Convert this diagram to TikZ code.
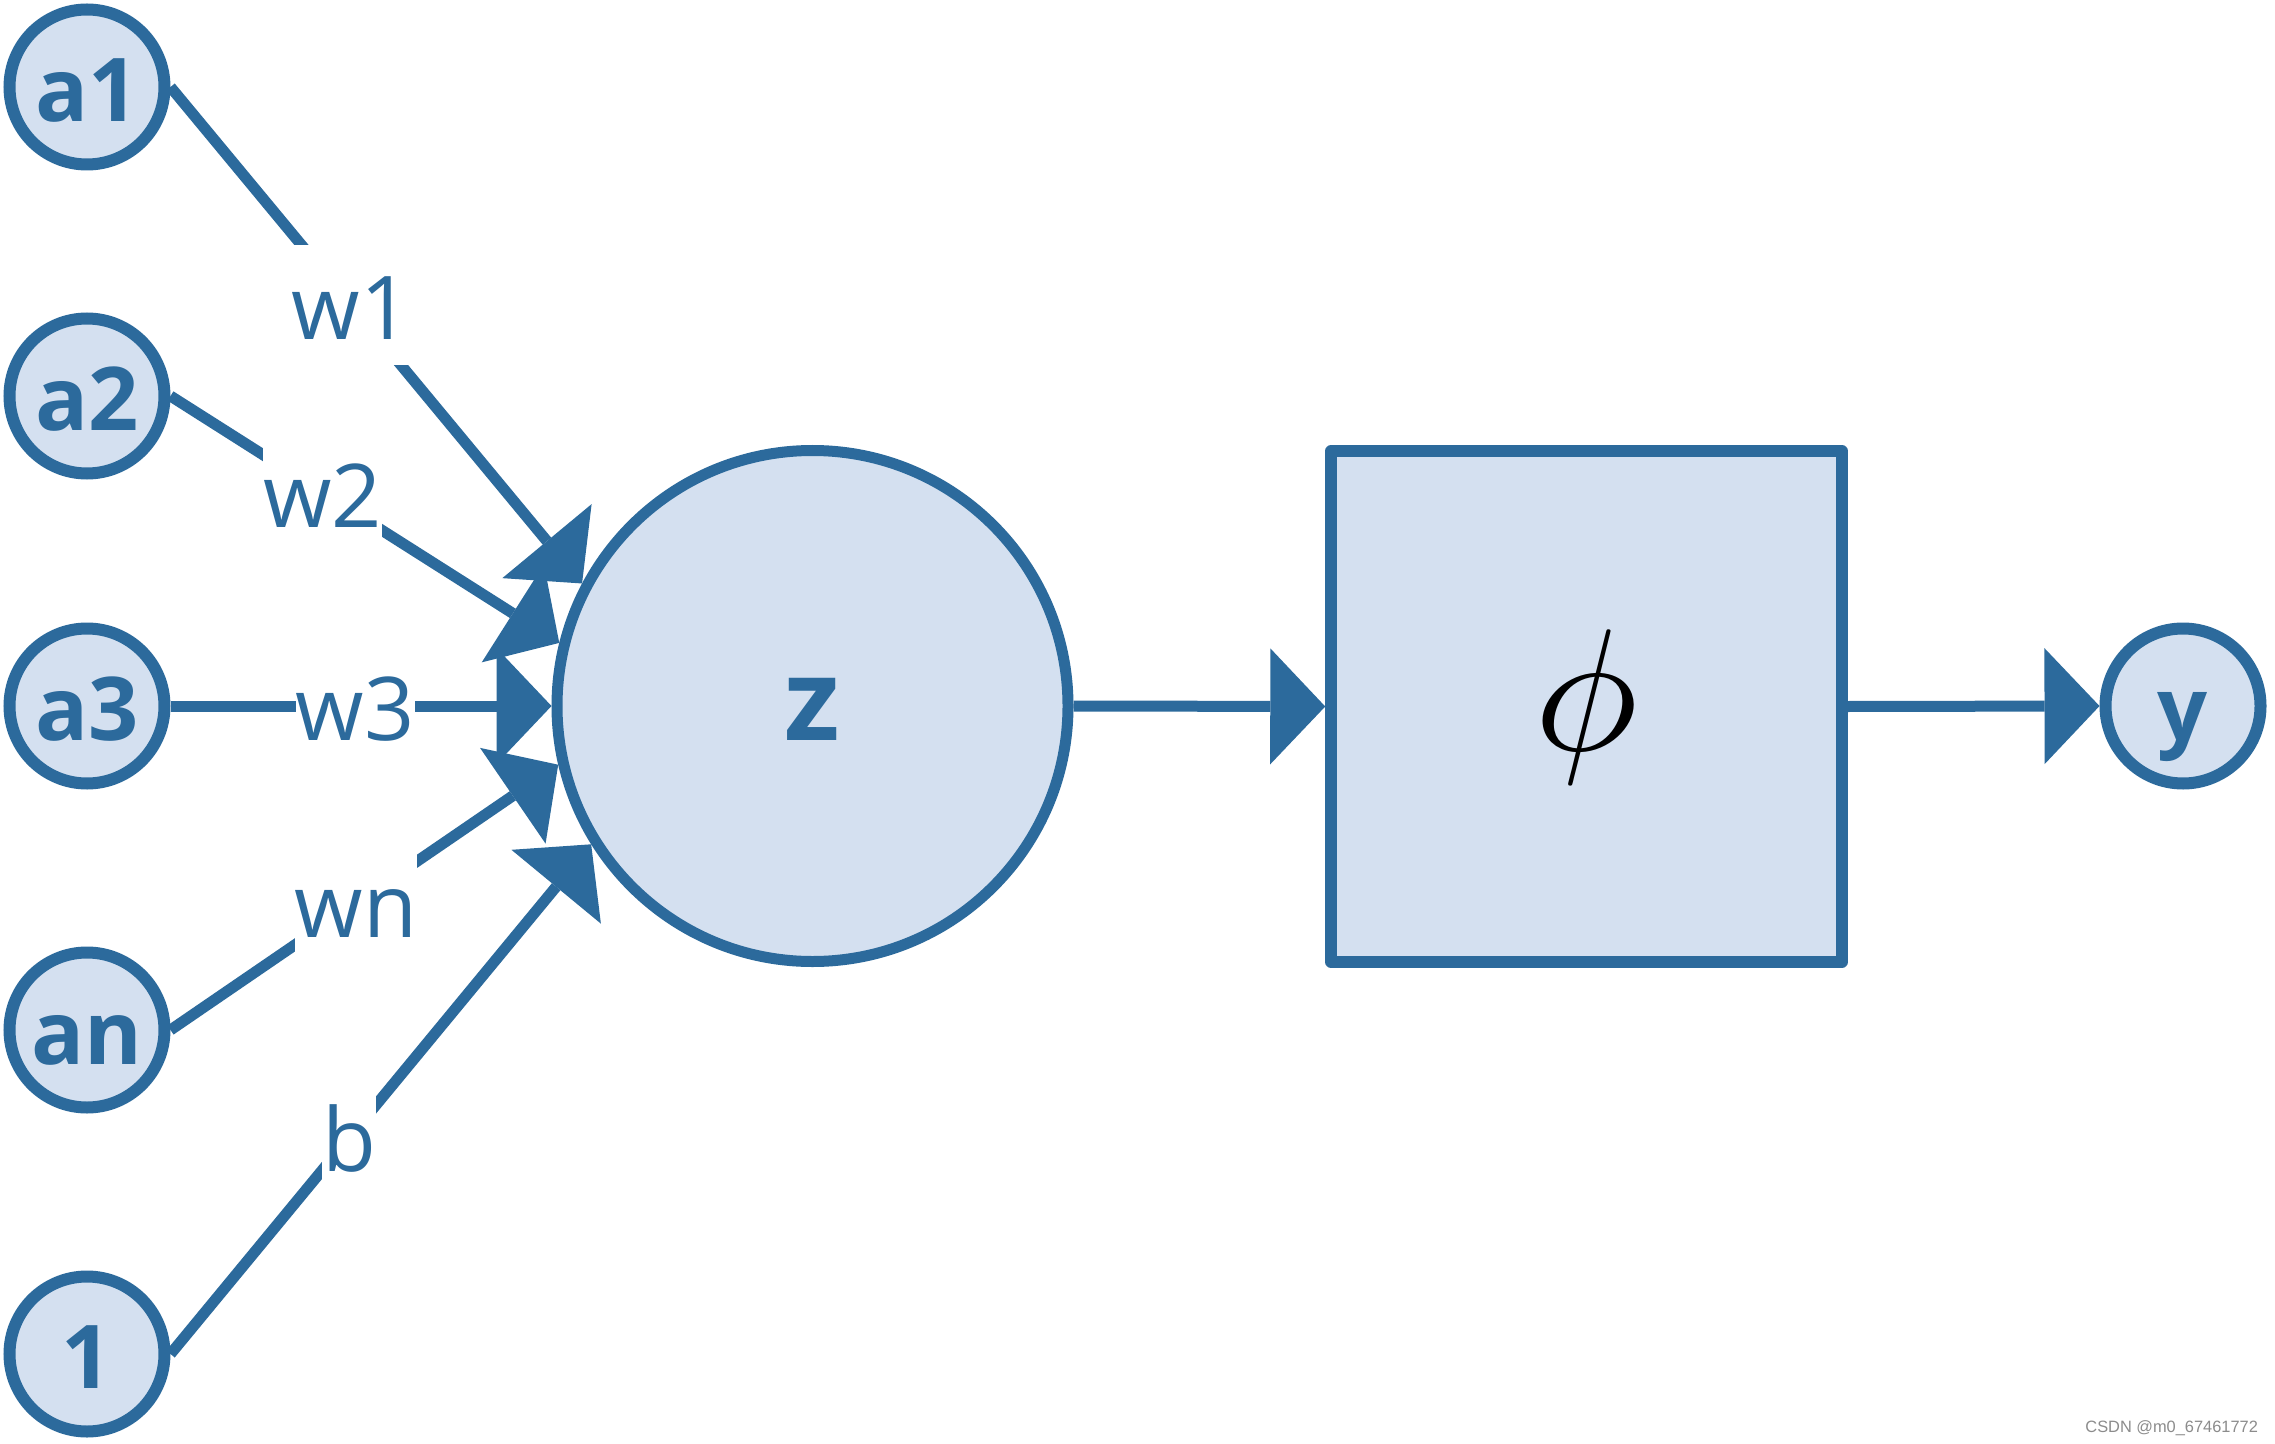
\documentclass[tikz,border=0pt]{standalone}
\usepackage{graphicx}
\usepackage{fontspec}
\setmainfont{Open Sans}
\newfontfamily\wmfont{Liberation Sans}
\usetikzlibrary{arrows.meta}
\definecolor{nblue}{RGB}{44,106,156}
\definecolor{nfill}{RGB}{212,224,240}
\definecolor{wmgray}{RGB}{140,140,140}
\begin{document}
\begin{tikzpicture}[x=0.5pt,y=-0.5pt,
  neuron/.style={circle,draw=nblue,fill=nfill,line width=6pt,inner sep=0pt,
    minimum size=77.5pt,text=nblue,font=\fontsize{44}{50}\selectfont\bfseries,
    text height=34.5pt,text depth=0pt},
  sumnode/.style={circle,draw=nblue,fill=nfill,line width=5.5pt,inner sep=0pt,
    minimum size=255.5pt,text=nblue,font=\fontsize{57}{64}\selectfont\bfseries,
    text height=34.5pt,text depth=0pt},
  actbox/.style={rectangle,draw=nblue,fill=nfill,line width=5.75pt,line join=round,
    inner sep=0pt,minimum width=255.5pt,minimum height=255.5pt,text=black},
  conn/.style={draw=nblue,line width=5.5pt,
    -{Triangle[length=27.5pt,width=58pt,line width=0pt]}},
  wlabel/.style={fill=white,inner sep=0pt,text=nblue,font=\fontsize{44}{50}\selectfont,
    text height=47.25pt,text depth=12.75pt}
]
\useasboundingbox (0,0) rectangle (2275,1444);
\fill[white] (0,0) rectangle (2275,1444);

\node[neuron] (a1) at (87,87) {a1};
\node[neuron] (a2) at (87,396) {a2};
\node[neuron] (a3) at (87,706) {a3};
\node[neuron] (an) at (87,1030) {an};
\node[neuron] (one) at (87,1354) {1};

\node[sumnode] (z) at (812.5,706) {z};
\node[actbox] (f) at (1586.5,706.5) {\scalebox{8.7}{$\phi$}};
\node[neuron] (y) at (2183,706) {y};

\draw[conn] (a1.east) -- node[wlabel,pos=0.439] (lw1) {w1} (z.152);
\draw[conn] (a2.east) -- node[wlabel,pos=0.391] (lw2) {w2} (z.166.5);
\draw[conn] (a3.east) -- node[wlabel,pos=0.485] (lw3) {w3} (z.180);
\draw[conn] (an.east) -- node[wlabel,pos=0.479] (lwn) {wn} (z.193.5);
\draw[conn] (one.east) -- node[wlabel,pos=0.425] (lb) {b} (z.212.7);

\draw[conn] (z.east) -- (f.west);
\draw[conn] (f.east) -- (y.west);

\node[font=\wmfont\fontsize{8.2}{10}\selectfont,text=wmgray,anchor=base west,inner sep=0pt]
  (wm) at (2085,1432) {CSDN @m0\_67461772};
\end{tikzpicture}
\end{document}
